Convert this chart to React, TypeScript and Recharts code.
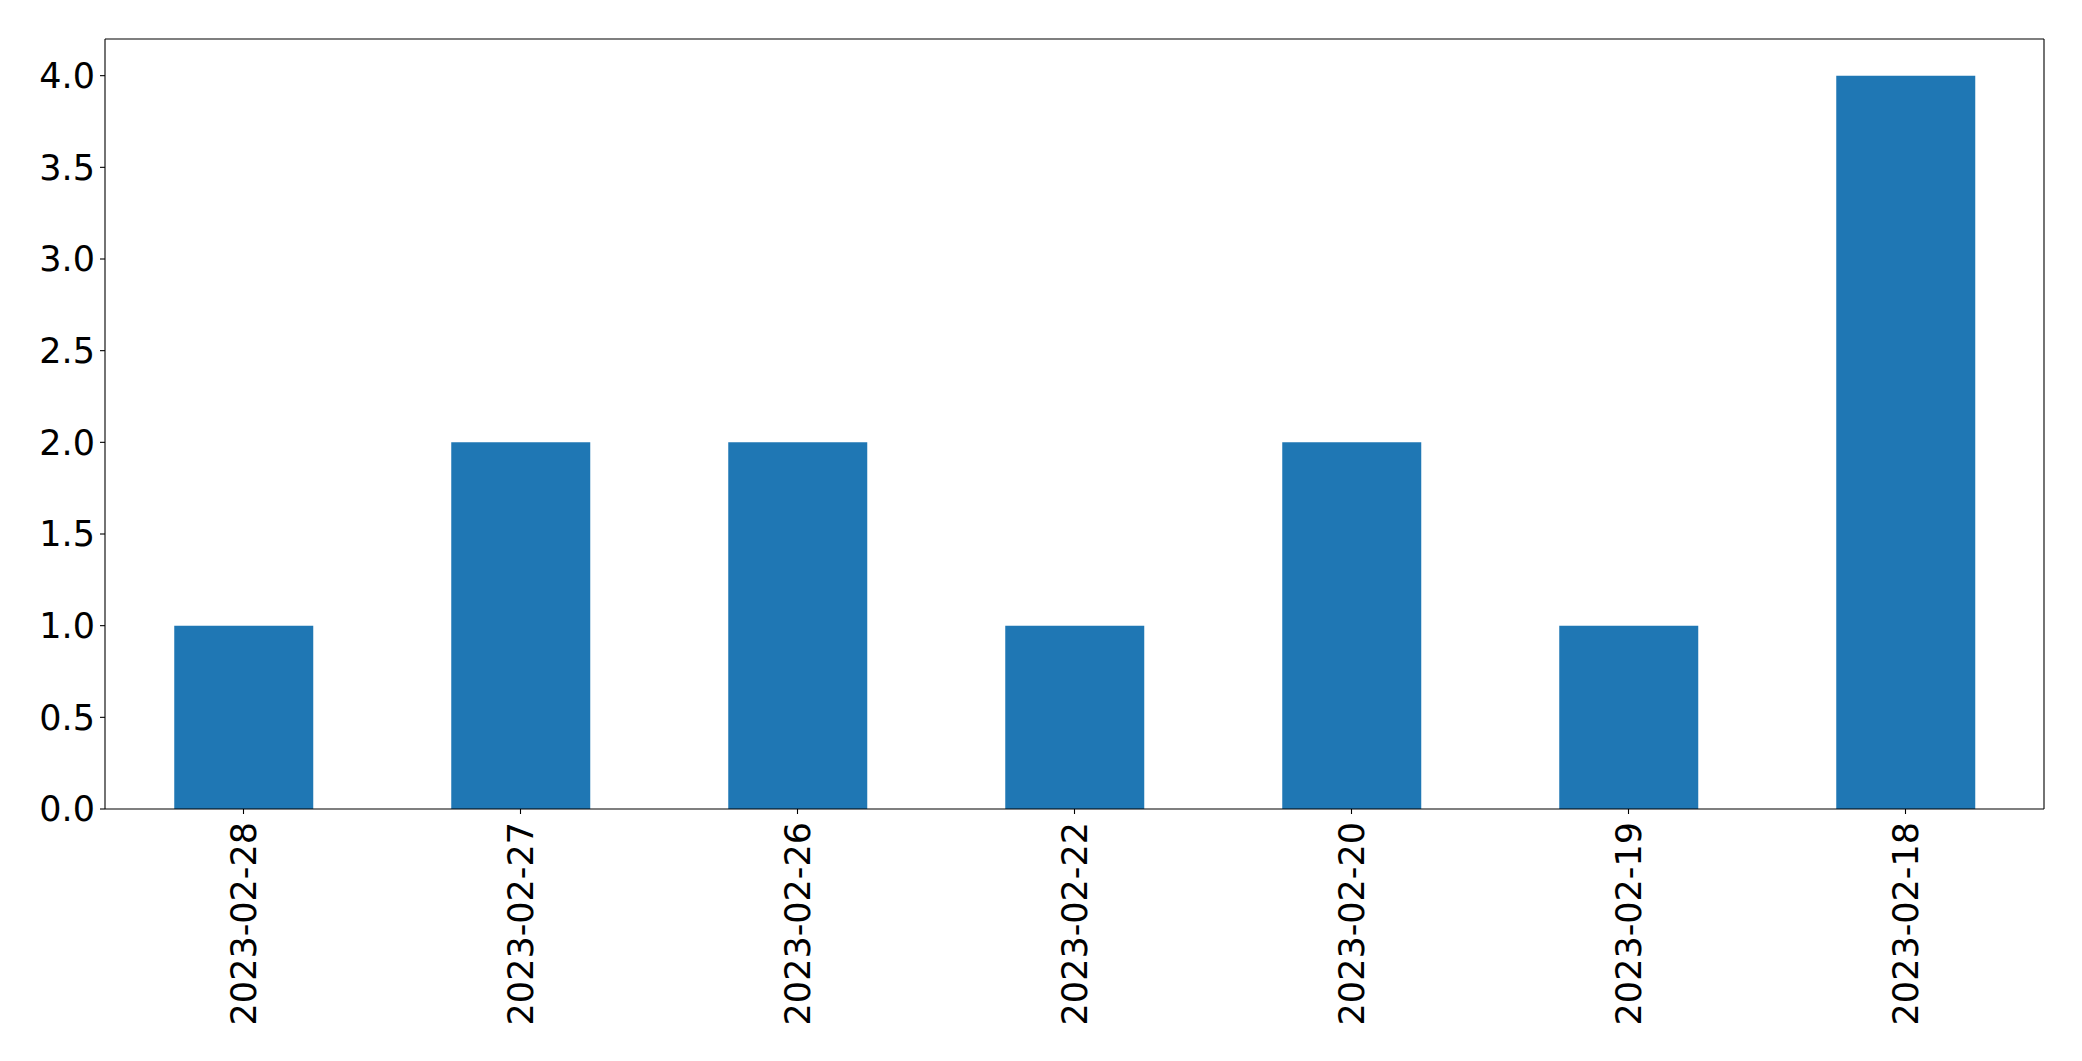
import React from 'react';
import { BarChart, Bar, XAxis, YAxis } from 'recharts';

const dates = ['2023-02-28', '2023-02-27', '2023-02-26', '2023-02-22', '2023-02-20', '2023-02-19', '2023-02-18'];
const counts = [1, 2, 2, 1, 2, 1, 4];
const yTicks = [0, 0.5, 1, 1.5, 2, 2.5, 3, 3.5, 4];

const data = dates.map((d, i) => ({ date: d, count: counts[i] }));

const FONT = 'DejaVu Sans, sans-serif';
const FONT_SIZE = 35;

const DateTick = (props: any) => {
    const { x, y, payload } = props;
    return (
        <g transform={`translate(${x},${y})`}>
            <text
                x={0}
                y={0}
                dx={-6}
                dy="0.36em"
                textAnchor="end"
                transform="rotate(-90)"
                fill="#000"
                fontFamily={FONT}
                fontSize={FONT_SIZE}
            >
                {payload.value}
            </text>
        </g>
    );
};

const App: React.FC = () => {
    return (
        <div style={{ position: 'absolute', left: 0, top: 0, background: '#fff' }}>
            <BarChart
                width={2082}
                height={1061}
                data={data}
                margin={{ top: 38, right: 37, bottom: 22, left: 0 }}
                barCategoryGap="25%"
            >
                <XAxis
                    dataKey="date"
                    interval={0}
                    height={230}
                    tick={<DateTick />}
                    tickSize={5}
                    tickLine={{ stroke: '#000', strokeWidth: 1.1 }}
                    axisLine={{ stroke: '#000', strokeWidth: 1.1 }}
                />
                <XAxis
                    xAxisId="top"
                    dataKey="date"
                    orientation="top"
                    height={1}
                    tick={false}
                    tickLine={false}
                    axisLine={{ stroke: '#000', strokeWidth: 1.1 }}
                />
                <YAxis
                    domain={[0, 4.2]}
                    ticks={yTicks}
                    interval={0}
                    width={105}
                    tickSize={5}
                    tickMargin={5}
                    tickFormatter={(v: number) => v.toFixed(1)}
                    tick={{ fill: '#000', fontFamily: FONT, fontSize: FONT_SIZE }}
                    tickLine={{ stroke: '#000', strokeWidth: 1.1 }}
                    axisLine={{ stroke: '#000', strokeWidth: 1.1 }}
                />
                <YAxis
                    yAxisId="right"
                    orientation="right"
                    width={1}
                    domain={[0, 4.2]}
                    tick={false}
                    tickLine={false}
                    axisLine={{ stroke: '#000', strokeWidth: 1.1 }}
                />
                <Bar dataKey="count" fill="#1f77b4" isAnimationActive={false} />
            </BarChart>
        </div>
    );
};

export default App;
